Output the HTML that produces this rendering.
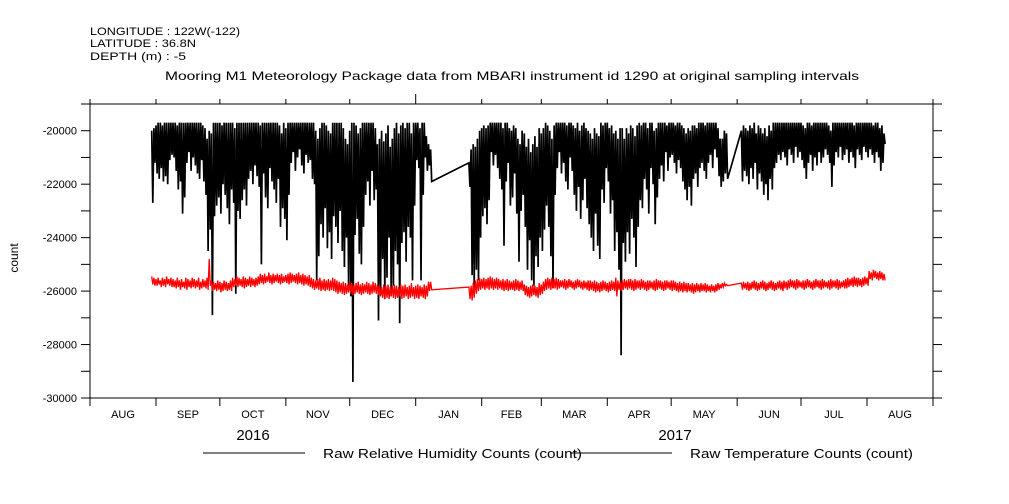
<!DOCTYPE html>
<html><head><meta charset="utf-8"><style>
body{margin:0;background:#fff;}
svg{display:block;font-family:"Liberation Sans",sans-serif;}
</style></head><body>
<svg id="chart" width="1009" height="504" viewBox="0 0 1009 504" xmlns="http://www.w3.org/2000/svg">
<rect width="1009" height="504" fill="#fff"/>
<g font-size="11" fill="#000">
<text x="90" y="35" textLength="150" lengthAdjust="spacingAndGlyphs">LONGITUDE : 122W(-122)</text>
<text x="90" y="47" textLength="106" lengthAdjust="spacingAndGlyphs">LATITUDE : 36.8N</text>
<text x="90" y="60" textLength="96" lengthAdjust="spacingAndGlyphs">DEPTH (m) : -5</text>
</g>
<text x="165" y="80" font-size="12" textLength="694" lengthAdjust="spacingAndGlyphs">Mooring M1 Meteorology Package data from MBARI instrument id 1290 at original sampling intervals</text>
<text transform="translate(18,258) rotate(-90)" text-anchor="middle" font-size="12">count</text>
<g id="axes"></g>
<g id="series"></g>
<g font-size="13">
<line x1="203" y1="453" x2="305" y2="453" stroke="#000"/>
<text x="323" y="458" textLength="259" lengthAdjust="spacingAndGlyphs">Raw Relative Humidity Counts (count)</text>
<line x1="570" y1="453" x2="672" y2="453" stroke="#000"/>
<text x="690" y="458" textLength="223" lengthAdjust="spacingAndGlyphs">Raw Temperature Counts (count)</text>
</g>
<text x="253" y="440" text-anchor="middle" font-size="15">2016</text>
<text x="675" y="440" text-anchor="middle" font-size="15">2017</text>
</svg>
<script>
// days are offsets from 2016-08-01
const monthLabels=["AUG","SEP","OCT","NOV","DEC","JAN","FEB","MAR","APR","MAY","JUN","JUL","AUG"];
const monthStarts=[0,31,61,92,122,153,184,212,243,273,304,334,365,396];
const yTicks=[-30000,-29000,-28000,-27000,-26000,-25000,-24000,-23000,-22000,-21000,-20000,-19000];
const yLabels=[-30000,-28000,-26000,-24000,-22000,-20000];
const startDay=29;
// values in hundreds of counts, one per day from day 29; null = no data
const humLo=[-227,-212,-216,-218,-214,-219,-217,-220,-211,-209,
-210,-215,-222,-219,-231,-225,-212,-208,-215,-210,
-213,-216,-218,-211,-219,-224,-245,-237,-269,-232,
-228,-225,-231,-220,-224,-229,-235,-222,-227,-261,
-230,-233,-226,-222,-228,-218,-215,-220,-213,-217,
-221,-250,-216,-225,-229,-214,-219,-222,-227,-218,
-236,-229,-233,-241,-224,-212,-208,-215,-210,-207,
-213,-216,-209,-212,-211,-218,-220,-256,-247,-235,
-240,-229,-244,-238,-248,-232,-236,-242,-230,-245,
-251,-240,-258,-262,-294,-239,-233,-246,-250,-236,
-224,-219,-228,-215,-226,-222,-271,-260,-248,-263,
-255,-240,-262,-258,-245,-250,-272,-242,-238,-249,
-236,-240,-256,-228,-211,-214,-256,-224,-210,-215,-213,-219,
null,null,null,null,null,null,null,null,null,null,null,null,null,null,null,null,null,
-221,-254,-259,-252,-256,-240,-232,-229,-235,-226,
-208,-213,-209,-214,-218,-222,-243,-219,-212,-228,
-225,-216,-231,-249,-230,-224,-236,-252,-241,-256,
-258,-247,-251,-240,-245,-237,-228,-236,-247,-259,
-224,-214,-208,-216,-212,-219,-222,-210,-215,-224,
-230,-221,-233,-226,-218,-229,-235,-240,-245,-231,
-243,-248,-222,-227,-214,-219,-231,-226,-245,-238,
-252,-284,-242,-249,-238,-246,-233,-240,-251,-236,
-226,-229,-218,-222,-231,-214,-220,-235,-225,-218,
-213,-219,-208,-215,-210,-209,-212,-216,-211,-214,
-219,-222,-226,-221,-228,-218,-216,-221,-214,-212,
-215,-218,-212,-209,-214,-207,-210,-217,-221,-219,-216,-218,
null,null,null,null,null,null,
-219,-215,-217,-220,-214,-218,-212,-222,-216,-219,
-224,-220,-226,-218,-222,-214,-212,-209,-211,-208,
-210,-213,-207,-209,-212,-206,-210,-208,-211,-214,
-218,-212,-209,-215,-210,-213,-208,-212,-210,-207,
-209,-212,-221,-213,-208,-210,-206,-211,-209,-207,
-212,-208,-210,-214,-207,-209,-211,-206,-208,-210,
-207,-209,-212,-208,-210,-215,-212,-205];
const humHi=[-200,-199,-198,-197,-197,-198,-197,-197,-197,-197,
-197,-197,-198,-197,-197,-197,-197,-197,-197,-197,
-197,-197,-197,-197,-198,-199,-203,-200,-201,-197,
-197,-197,-197,-198,-197,-197,-197,-197,-197,-199,
-197,-197,-197,-197,-197,-197,-197,-197,-197,-197,
-197,-198,-197,-197,-197,-197,-197,-197,-197,-197,
-198,-201,-197,-199,-197,-197,-197,-197,-197,-197,
-197,-197,-197,-197,-197,-197,-197,-200,-203,-199,
-197,-197,-198,-200,-201,-197,-197,-197,-197,-197,
-199,-203,-205,-200,-197,-197,-198,-201,-199,-197,
-197,-197,-197,-197,-197,-199,-205,-203,-200,-204,
-201,-198,-206,-203,-199,-197,-201,-198,-197,-199,
-197,-197,-201,-197,-197,-197,-199,-197,-197,-202,-205,-207,
null,null,null,null,null,null,null,null,null,null,null,null,null,null,null,null,null,
-212,-207,-205,-206,-203,-200,-199,-198,-199,-198,
-197,-197,-197,-197,-197,-197,-199,-197,-197,-199,
-200,-198,-199,-203,-205,-200,-201,-206,-203,-208,
-205,-202,-206,-199,-201,-199,-197,-198,-200,-203,
-198,-197,-197,-197,-197,-197,-198,-197,-197,-198,
-199,-197,-200,-198,-197,-199,-200,-201,-203,-199,
-201,-202,-197,-198,-197,-197,-199,-198,-201,-200,
-203,-199,-199,-203,-199,-201,-198,-199,-202,-198,
-197,-198,-197,-197,-199,-197,-197,-200,-199,-197,
-197,-197,-197,-198,-197,-197,-197,-198,-197,-197,
-198,-199,-201,-199,-200,-198,-198,-199,-197,-197,
-197,-198,-197,-197,-197,-197,-197,-199,-203,-203,-200,-201,
null,null,null,null,null,null,
-200,-198,-199,-200,-198,-199,-197,-201,-198,-199,
-201,-199,-202,-198,-200,-197,-197,-197,-197,-197,
-197,-197,-197,-197,-197,-197,-197,-197,-197,-198,
-199,-197,-197,-198,-197,-197,-197,-197,-197,-197,
-197,-198,-200,-197,-197,-197,-197,-197,-197,-197,
-197,-197,-197,-198,-197,-197,-197,-197,-197,-197,
-197,-197,-198,-197,-197,-199,-198,-201];
const tempHi=[-254.5,-255,-255.5,-255,-256,-255,-255.5,-254.5,-255.5,-255,
-255.5,-256,-255,-256,-255.5,-256.5,-255,-255.5,-256,-255,
-255.5,-256,-255,-256.5,-255.5,-256,-255,-248,-256,-256.5,
-257,-256,-256.5,-257,-256,-256.5,-257,-256,-255,-255.5,
-254.5,-255,-255.5,-254.5,-255,-255.5,-254.5,-255,-255.5,-255,
-254.5,-253.5,-254,-253.5,-254.5,-253,-254,-253.5,-254,-253.5,
-254,-253.5,-254.5,-254,-253.5,-253,-253.5,-254,-253.5,-253,
-254,-253.5,-254,-254.5,-254,-255,-255.5,-256,-255.5,-255,
-256,-255.5,-256,-255.5,-256,-255,-255.5,-256,-256.5,-257,
-256.5,-257,-257.5,-256.5,-257,-257.5,-257,-256.5,-257.5,-257,
-257.5,-256.5,-257,-257.5,-256.5,-257,-257.5,-258,-258.5,-257.5,
-258,-257.5,-258.5,-258,-257.5,-258,-258.5,-257.5,-258,-257.5,
-258.5,-258,-257,-258.5,-258,-257.5,-258,-258.5,-257.5,-258,-256.5,-256.5,
null,null,null,null,null,null,null,null,null,null,null,null,null,null,null,null,null,
-258.5,-258,-257,-256,-255.5,-255,-255.5,-255,-255.5,-255,
-254.5,-255,-255.5,-255,-255.5,-256,-255.5,-256,-255.5,-256,
-256.5,-256,-255.5,-256,-256.5,-256,-257.5,-258,-258.5,-258,
-257.5,-258,-258.5,-257,-257.5,-256.5,-255.5,-255,-255.5,-255,
-255.5,-255,-255.5,-256,-256,-255.5,-256,-255.5,-256,-256.5,
-256,-255.5,-256,-256.5,-256,-256.5,-256,-256,-256.5,-256,
-256.5,-257,-256.5,-256,-256.5,-257,-256.5,-256,-256.5,-255,
-256,-256.5,-256,-255.5,-256,-255.5,-255.5,-256,-255.5,-256,
-256,-255.5,-256,-256.5,-256,-256,-256.5,-256,-255.5,-256,
-256,-256.5,-256,-256,-256.5,-256,-256,-256.5,-257,-256.5,
-257,-256.5,-257,-257,-257.5,-257,-257.5,-257,-257.5,-257,
-257.5,-257,-257.5,-258,-257.5,-258,-257.5,-257,-257.5,-257,-257,-257.5,
null,null,null,null,null,null,
-257,-256.5,-257,-256.5,-257,-256.5,-256,-256.5,-257,-256.5,
-256,-256.5,-257,-256.5,-256,-256.5,-257,-256.5,-256,-256.5,
-256,-256.5,-256,-255.5,-256,-256,-255.5,-256,-256.5,-256,
-256,-255.5,-256,-256.5,-256,-255.5,-256,-256,-255.5,-256,
-256.5,-256,-255.5,-256,-256,-255.5,-256,-256.5,-256,-255.5,
-255,-255.5,-255,-254.5,-255,-255,-255.5,-255,-254.5,-255,
-252.5,-253,-252,-252.5,-253,-252.5,-253,-253.5];
const tempLo=[-257.5,-258,-258,-257.5,-258.5,-258,-258.5,-257.5,-258,-258.5,
-258.5,-259,-258.5,-259.5,-258.5,-259,-259.5,-258.5,-259,-258.5,
-259,-258.5,-259.5,-259,-258.5,-259,-259.5,-258,-260,-259.5,
-260,-259.5,-260.5,-260,-259.5,-260,-259.5,-260,-258.5,-258,
-258.5,-258,-258.5,-259,-258.5,-258,-258.5,-258,-258.5,-258,
-257.5,-257,-257.5,-257,-256.5,-257,-257.5,-257,-256.5,-257,
-257.5,-257,-256.5,-257,-257.5,-257,-256.5,-257,-257.5,-257,
-257.5,-258,-257.5,-258,-258.5,-259,-259.5,-259,-259.5,-260,
-259.5,-260,-259.5,-260,-259.5,-260,-260.5,-261,-260.5,-261,
-261.5,-261,-260.5,-261,-261.5,-261,-260.5,-261,-261.5,-261,
-260.5,-261,-261.5,-261,-260.5,-261,-261.5,-262,-262.5,-263,
-262.5,-263,-262,-262.5,-263,-262.5,-262,-263,-262.5,-262,
-263,-262.5,-262,-263,-262.5,-263,-262,-262.5,-263,-262,-260,-259.5,
null,null,null,null,null,null,null,null,null,null,null,null,null,null,null,null,null,
-263,-263.5,-262.5,-261,-260,-259.5,-259,-259.5,-259,-259.5,
-259,-259.5,-259,-259.5,-259,-259.5,-260,-259.5,-260,-259.5,
-259.5,-260,-259.5,-260,-259.5,-260,-261.5,-262,-262.5,-262,
-261.5,-262,-262.5,-261.5,-261,-260,-259.5,-259,-259.5,-259,
-259,-259.5,-259,-258.5,-259,-259.5,-259,-258.5,-259,-259.5,
-259,-258.5,-259,-259.5,-259,-259.5,-260,-259.5,-260,-260.5,
-260,-260.5,-260,-259.5,-260,-260.5,-260,-259.5,-260,-262,
-259.5,-260,-259.5,-259,-259.5,-259,-259.5,-260,-259.5,-259,
-259.5,-259,-259.5,-260,-259.5,-259,-259.5,-260,-259.5,-259,
-259.5,-260,-259.5,-259,-259.5,-260,-259.5,-260,-260.5,-260,
-260.5,-260,-260.5,-260,-260.5,-261,-260.5,-260,-260.5,-260,
-260,-260.5,-260,-260.5,-260,-260.5,-260,-259.5,-259,-258.5,-258,-258,
null,null,null,null,null,null,
-259.5,-259,-259.5,-260,-259.5,-259,-259.5,-260,-259.5,-259,
-259.5,-260,-259.5,-259,-259.5,-260,-259.5,-259,-259.5,-260,
-259,-259.5,-259,-258.5,-259,-259.5,-259,-258.5,-259,-259.5,
-259,-258.5,-259,-259.5,-259,-258.5,-259,-259.5,-259,-258.5,
-259,-259.5,-259,-258.5,-259,-259.5,-259,-258.5,-259,-259,
-258.5,-258,-258.5,-258,-258.5,-258,-258.5,-258,-257.5,-258,
-255.5,-256,-255,-255.5,-256,-255.5,-256,-256];

const L=90,R=933,T=104,B=398,D0=0,D1=396,V0=-30000,V1=-19000;
const NS="http://www.w3.org/2000/svg";
function xS(d){return L+(d-D0)/(D1-D0)*(R-L);}
function yS(v){return B-(v-V0)/(V1-V0)*(B-T);}
function mk(tag,attrs,parent){const e=document.createElementNS(NS,tag);for(const k in attrs)e.setAttribute(k,attrs[k]);parent.appendChild(e);return e;}
const axes=document.getElementById('axes');
const frame=mk('rect',{x:L,y:T,width:R-L,height:B-T,fill:'none',stroke:'#000','stroke-width':1},axes);


monthStarts.forEach((d,i)=>{
  const x=xS(d);
  const t1=mk('line',{x1:x,y1:B,x2:x,y2:B+8,stroke:'#000'},axes);
  
  
  const t2=mk('line',{x1:x,y1:T,x2:x,y2:T-(d===153?10:5),stroke:'#000'},axes);
  
  
  if(i<monthLabels.length){
    const tx=mk('text',{x:(xS(d)+xS(monthStarts[i+1]))/2,y:418,'text-anchor':'middle','font-size':11},axes);
    tx.textContent=monthLabels[i];
    
    
  }
});
yTicks.forEach(v=>{
  const y=yS(v);
  const a=mk('line',{x1:L-9,y1:y,x2:L,y2:y,stroke:'#000'},axes);
  
  
  const b=mk('line',{x1:R,y1:y,x2:R+9,y2:y,stroke:'#000'},axes);
  
  
});
yLabels.forEach(v=>{
  const t=mk('text',{x:77,y:yS(v)+4,'text-anchor':'end','font-size':11},axes);
  t.textContent=String(v);
  
  
});
function path(hi,lo,color,name,w){
  let pts=[];
  for(let i=0;i<hi.length;i++){
    if(hi[i]===null||lo[i]===null)continue;
    const d=startDay+i;
    pts.push(xS(d).toFixed(1)+','+yS(hi[i]*100).toFixed(1));
    pts.push(xS(d+0.5).toFixed(1)+','+yS(lo[i]*100).toFixed(1));
  }
  const p=mk('polyline',{points:pts.join(' '),fill:'none',stroke:color,'stroke-width':w},document.getElementById('series'));
  
  
}
path(humHi,humLo,'#000','humidity-series',1.7);
path(tempHi,tempLo,'#f00','temperature-series',1.3);
</script>
</body></html>
